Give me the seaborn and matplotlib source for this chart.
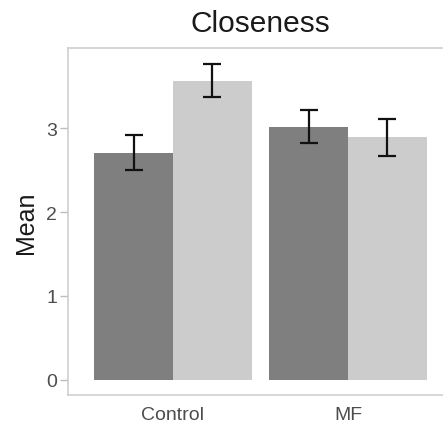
import matplotlib
matplotlib.use("Agg")
import matplotlib.pyplot as plt
import seaborn as sns
import pandas as pd

# Group means and error half-widths for the closeness ratings
groups = ["Control", "Control", "MF", "MF"]
phase = ["Pre", "Post", "Pre", "Post"]
means = [2.71, 3.57, 3.02, 2.89]
errors = [0.21, 0.20, 0.195, 0.22]

df = pd.DataFrame({"group": groups, "phase": phase, "mean": means, "err": errors})

sns.set_theme(style="white")
plt.rcParams["font.family"] = ["Liberation Sans", "DejaVu Sans"]

fig = plt.figure(figsize=(4.43, 4.27), dpi=100)
ax = fig.add_axes([0.1535, 0.0717, 0.869, 0.8136])

sns.barplot(
    data=df, x="group", y="mean", hue="phase",
    palette=["#7f7f7f", "#cccccc"], width=0.9,
    errorbar=None, legend=False, linewidth=0, ax=ax,
)

# Error bars placed on the centre of each drawn bar
bars = [p for p in ax.patches if p.get_height() > 0]
bars.sort(key=lambda p: p.get_x())
order = sorted(range(len(df)), key=lambda i: (["Control", "MF"].index(groups[i]), ["Pre", "Post"].index(phase[i])))
for p, i in zip(bars, order):
    cx = p.get_x() + p.get_width() / 2
    ax.errorbar(cx, means[i], yerr=errors[i], fmt="none", ecolor="#111111",
                elinewidth=1.6, capsize=6.5, capthick=1.6)

ax.set_xlim(-0.6, 1.6)
ax.set_ylim(-0.1885, 3.9585)
ax.set_yticks([0, 1, 2, 3])
ax.set_xlabel("")
ax.set_ylabel("Mean", fontsize=18, color="#1a1a1a", labelpad=6)
ax.set_title("Closeness", fontsize=21.5, color="#1a1a1a", pad=12)

for s in ax.spines.values():
    s.set_color("#cfcfcf")
    s.set_linewidth(1.2)
ax.spines["right"].set_visible(False)

ax.tick_params(axis="y", length=6, width=1, color="#bdbdbd", pad=2,
               labelsize=14, labelcolor="#4d4d4d", left=True)
ax.tick_params(axis="x", length=0, pad=8, labelsize=14, labelcolor="#4d4d4d")

fig.savefig("out.png", dpi=100)
